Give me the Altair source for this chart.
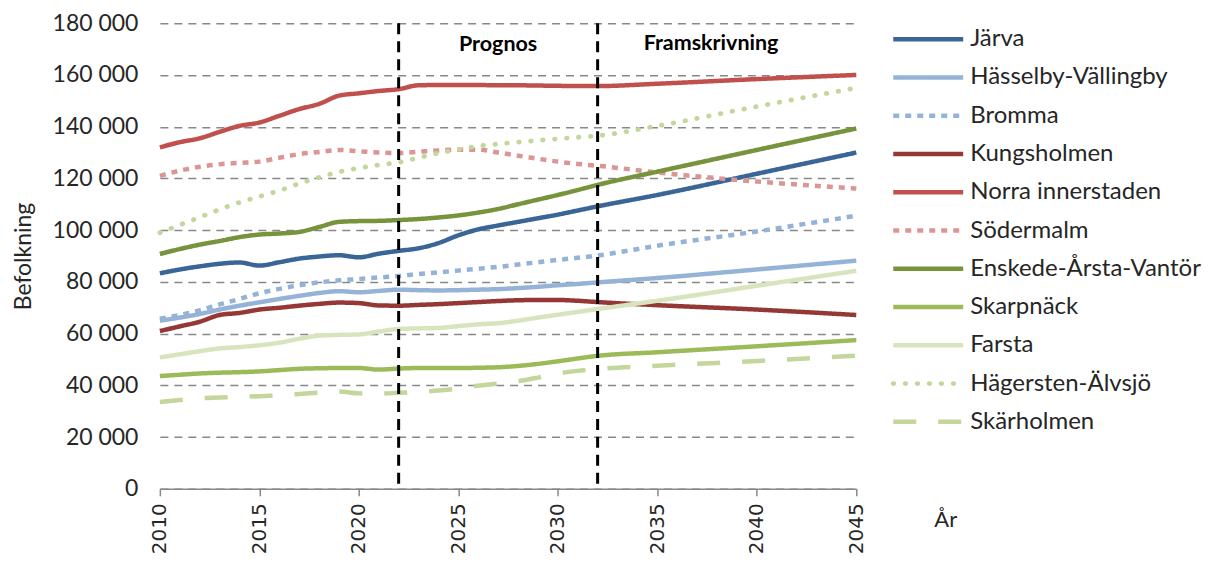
import altair as alt
import pandas as pd

years = [2010, 2011, 2012, 2013, 2014, 2015, 2016, 2017, 2018, 2019, 2020, 2021,
         2022, 2023, 2024, 2025, 2026, 2027, 2028, 2029, 2030, 2031, 2032,
         2035, 2040, 2045]

series_names = ["Järva", "Hässelby-Vällingby", "Bromma", "Kungsholmen",
                "Norra innerstaden", "Södermalm", "Enskede-Årsta-Vantör",
                "Skarpnäck", "Farsta", "Hägersten-Älvsjö", "Skärholmen"]

colors = ["#3A6597", "#95B3D7", "#95B3D7", "#953735", "#C0504D", "#DA9694",
          "#77933C", "#9BBB59", "#D7E4BD", "#C3D69B", "#C3D69B"]

dashes = [[1, 0], [1, 0], [6, 6], [1, 0], [1, 0], [6, 6],
          [1, 0], [1, 0], [1, 0], [0.5, 11.5], [23, 22]]

jarva = [83300, 84800, 86000, 87000, 87500, 86300, 87600, 89000, 89800, 90300, 89500, 90900,
         92000, 93000, 95000, 98000, 100300, 101800, 103200, 104600, 106000, 107600, 109200,
         113600, 121800, 130000]
hasselby = [65000, 66200, 67600, 69300, 70800, 72100, 73400, 74600, 75700, 76400, 76000, 76500,
            77000, 76800, 76700, 76800, 77000, 77200, 77600, 78100, 78700, 79200, 79800,
            81500, 84800, 88200]
bromma = [65800, 67200, 69000, 71300, 73400, 75600, 77300, 78700, 79800, 80600, 81100, 81700,
          82300, 83000, 83700, 84400, 85100, 85800, 86700, 87600, 88500, 89300, 90200,
          94000, 99500, 105600]
kungsholmen = [61000, 62800, 64600, 67200, 68000, 69300, 70000, 70800, 71500, 72000, 71800, 70900,
               70800, 71100, 71400, 71800, 72200, 72600, 72900, 73000, 73000, 72700, 72200,
               71000, 69300, 67200]
norra = [132000, 134000, 135500, 138000, 140300, 141600, 144200, 146800, 148800, 152000, 152900, 153800,
         154500, 156000, 156100, 156100, 156100, 156000, 156000, 155900, 155800, 155700, 155700,
         156600, 158400, 160000]
sodermalm = [121000, 123000, 124500, 125500, 126000, 126500, 128000, 129400, 130200, 131000, 130500, 130000,
             129800, 130300, 130800, 131100, 131100, 130000, 128800, 127600, 126500, 125600, 124900,
             122300, 118800, 116100]
enskede = [90800, 92700, 94400, 95800, 97300, 98300, 98700, 99300, 101200, 103200, 103500, 103600,
           103900, 104300, 104900, 105700, 106800, 108200, 110000, 111800, 113600, 115500, 117500,
           122600, 131000, 139300]
skarpnack = [43600, 44100, 44600, 44900, 45100, 45400, 45900, 46400, 46600, 46700, 46700, 46100,
             46500, 46700, 46700, 46700, 46800, 47000, 47500, 48300, 49300, 50400, 51400,
             52800, 55100, 57500]
farsta = [50800, 52000, 53200, 54300, 54800, 55500, 56500, 58000, 59200, 59500, 59700, 60800,
          61800, 62000, 62200, 62900, 63600, 64000, 65000, 66200, 67300, 68400, 69500,
          72700, 78500, 84300]
hagersten = [99000, 102000, 105000, 108000, 110700, 113000, 115300, 118000, 120400, 122500, 124000, 125200,
             126200, 128000, 129800, 131200, 132500, 133300, 134000, 134700, 135300, 135900, 136500,
             140300, 147800, 155000]
skarholmen = [33600, 34300, 35000, 35300, 35600, 35800, 36200, 36700, 37200, 37600, 36900, 36800,
              37100, 37500, 38000, 38800, 39900, 40700, 41600, 43000, 44600, 45600, 46300,
              47600, 49400, 51500]

series_values = [jarva, hasselby, bromma, kungsholmen, norra, sodermalm,
                 enskede, skarpnack, farsta, hagersten, skarholmen]

period_lines = [2022, 2032]
period_labels = ["Prognos", "Framskrivning"]
period_label_x = [2027.0, 2037.7]
period_label_y = [171500, 172000]

y_ticks = [0, 20000, 40000, 60000, 80000, 100000, 120000, 140000, 160000, 180000]
x_ticks = [2010, 2015, 2020, 2025, 2030, 2035, 2040, 2045]

rows = []
for name, vals in zip(series_names, series_values):
    for yr, v in zip(years, vals):
        rows.append({"series": name, "year": yr, "value": v})
df = pd.DataFrame(rows)

color_scale = alt.Scale(domain=series_names, range=colors)
dash_scale = alt.Scale(domain=series_names, range=dashes)

x_enc = alt.X("year:Q",
              scale=alt.Scale(domain=[2010, 2045], nice=False, zero=False),
              axis=alt.Axis(values=x_ticks, format="d", labelAngle=-90,
                            labelFont="DejaVu Sans", labelFontSize=20, labelColor="#262626",
                            labelPadding=7, grid=False, domainColor="#888888", domainWidth=1.5,
                            tickColor="#888888", tickWidth=1.5, tickSize=7,
                            title="År", titleFont="Lato", titleFontSize=22,
                            titleFontWeight="normal", titleColor="#262626",
                            titleX=786, titleY=31, titleAlign="center",
                            titleBaseline="middle", titleAngle=0))
y_enc = alt.Y("value:Q",
              scale=alt.Scale(domain=[0, 180000], nice=False),
              axis=alt.Axis(values=y_ticks,
                            labelExpr="replace(format(datum.value, ','), ',', ' ')",
                            labelFont="Lato", labelFontSize=23, labelColor="#262626",
                            labelPadding=22, ticks=False, domain=False,
                            gridColor="#888888", gridDash=[8, 6], gridWidth=1.5,
                            title="Befolkning", titleFont="Lato", titleFontSize=23,
                            titleFontWeight="normal", titleColor="#262626",
                            titlePadding=17))

main_df = df[df["series"] != "Hägersten-Älvsjö"]
hag_df = df[df["series"] == "Hägersten-Älvsjö"]

lines = alt.Chart(main_df).mark_line(strokeWidth=4.5, strokeCap="butt",
                                     interpolate="monotone").encode(
    x=x_enc, y=y_enc,
    color=alt.Color("series:N", scale=color_scale, legend=None),
    strokeDash=alt.StrokeDash("series:N", scale=dash_scale, legend=None),
)
hag_line = alt.Chart(hag_df).mark_line(strokeWidth=4.8, strokeCap="round",
                                       strokeDash=[0.5, 11.5],
                                       interpolate="monotone").encode(
    x=x_enc, y=y_enc,
    color=alt.Color("series:N", scale=color_scale, legend=None),
)

vlines = alt.Chart(pd.DataFrame({"year": period_lines})).mark_rule(
    color="black", strokeWidth=3, strokeDash=[11, 7]).encode(x=x_enc)

ann = alt.Chart(pd.DataFrame({"year": period_label_x, "value": period_label_y,
                              "label": period_labels})).mark_text(
    font="Lato", fontSize=21.5, fontWeight="bold", color="#000000",
    align="center", baseline="middle").encode(x=x_enc, y=y_enc, text="label:N")

main = alt.layer(lines, hag_line, vlines, ann).properties(width=697, height=466)

# legend panel
leg_sym_end = 0.2333
leg_text_x = 0.2567
leg_df = pd.DataFrame({"series": series_names, "idx": list(range(len(series_names))),
                       "x0": [0.0] * len(series_names),
                       "x1": [leg_sym_end] * len(series_names),
                       "xt": [leg_text_x] * len(series_names)})
lx = alt.Scale(domain=[0, 1])
ly = alt.Scale(domain=[-0.418, 11.75], reverse=True)

leg_rules = alt.Chart(leg_df[leg_df["series"] != "Hägersten-Älvsjö"]).mark_rule(
    strokeWidth=4.5, strokeCap="butt").encode(
    x=alt.X("x0:Q", scale=lx, axis=None), x2="x1:Q",
    y=alt.Y("idx:Q", scale=ly, axis=None),
    color=alt.Color("series:N", scale=color_scale, legend=None),
    strokeDash=alt.StrokeDash("series:N", scale=dash_scale, legend=None),
)
leg_hag = alt.Chart(leg_df[leg_df["series"] == "Hägersten-Älvsjö"]).mark_rule(
    strokeWidth=4.8, strokeCap="round", strokeDash=[0.5, 11.5]).encode(
    x=alt.X("x0:Q", scale=lx, axis=None), x2="x1:Q",
    y=alt.Y("idx:Q", scale=ly, axis=None),
    color=alt.Color("series:N", scale=color_scale, legend=None),
)
leg_text = alt.Chart(leg_df).mark_text(
    font="Lato", fontSize=24, align="left", baseline="middle", color="#262626").encode(
    x=alt.X("xt:Q", scale=lx, axis=None),
    y=alt.Y("idx:Q", scale=ly, axis=None),
    text="series:N",
)
legend = alt.layer(leg_rules, leg_hag, leg_text).properties(width=300, height=466)

chart = alt.hconcat(main, legend, spacing=37, bounds="flush").resolve_scale(
    color="shared", strokeDash="shared", x="independent", y="independent"
).configure(
    padding={"left": 4, "top": 4, "right": 0, "bottom": 0},
    background="white",
    view={"stroke": None},
)

chart.save("out.html", embed_options={"renderer": "svg", "actions": False})
